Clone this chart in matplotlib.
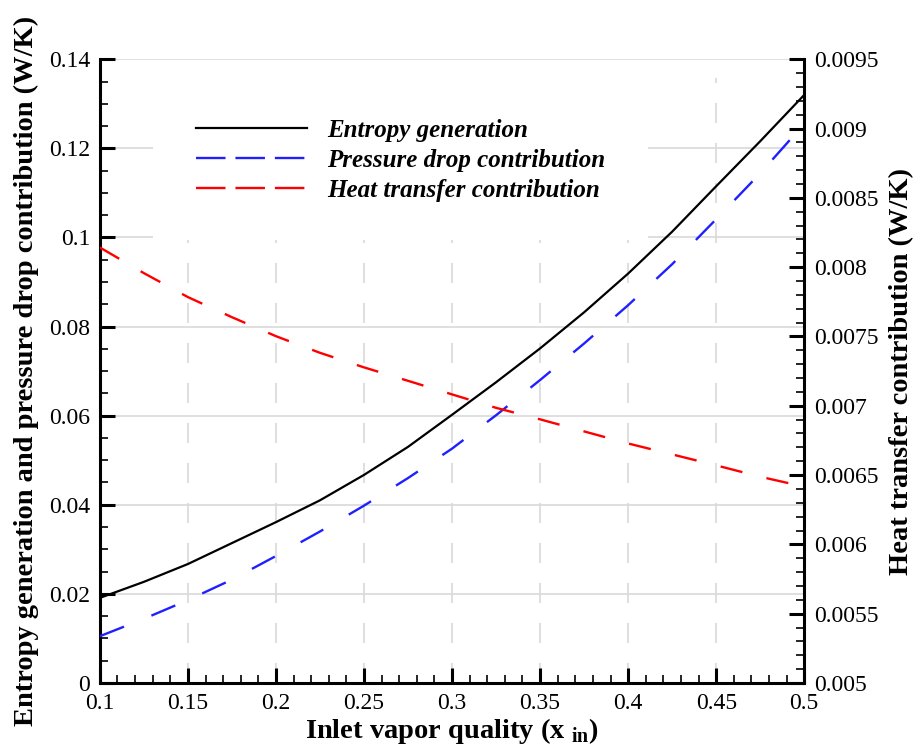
import numpy as np
import matplotlib
matplotlib.use("Agg")
import matplotlib.pyplot as plt
from matplotlib.patches import Rectangle
from matplotlib.ticker import MultipleLocator, FuncFormatter

plt.rcParams['font.family'] = ['Liberation Serif', 'DejaVu Serif']
plt.rcParams['mathtext.fontset'] = 'custom'
plt.rcParams['mathtext.rm'] = 'Liberation Serif'
plt.rcParams['mathtext.bf'] = 'Liberation Serif:bold'

# data
x_in = [0.1, 0.125, 0.15, 0.175, 0.2, 0.225, 0.25, 0.275, 0.3,
        0.325, 0.35, 0.375, 0.4, 0.425, 0.45, 0.475, 0.5]
entropy = [0.0191, 0.0227, 0.0267, 0.0314, 0.0361, 0.0410, 0.0467, 0.0530, 0.0602,
           0.0675, 0.0751, 0.0832, 0.0919, 0.1013, 0.1115, 0.1216, 0.1320]
pressure = [0.0105, 0.0144, 0.0186, 0.0232, 0.0285, 0.0340, 0.0398, 0.0460, 0.0526,
            0.0601, 0.0680, 0.0762, 0.0848, 0.0940, 0.1041, 0.1144, 0.1255]
heat = [0.008142, 0.007957, 0.007784, 0.007639, 0.007502, 0.007382, 0.007277, 0.007180, 0.007082,
        0.006985, 0.006902, 0.006815, 0.006728, 0.006649, 0.006570, 0.006488, 0.006416]

labels = ['Entropy generation', 'Pressure drop contribution', 'Heat transfer contribution']

fig = plt.figure(figsize=(9.16, 7.47), dpi=100)
ax = fig.add_axes([0.109, 0.0857, 0.769, 0.835])
ax2 = ax.twinx()

ax.set_xlim(0.1, 0.5)
ax.set_ylim(0, 0.14)
ax2.set_ylim(0.005, 0.0095)

# grid (tecplot style), legend area blanked out
gcol = '#d9d9d9'
for yv in np.arange(0.02, 0.121, 0.02):
    ax.axhline(yv, color=gcol, lw=1.2, zorder=0.5)
ax.axhline(0.14, color=gcol, lw=1.2, zorder=0.9)
for xv in np.arange(0.15, 0.46, 0.05):
    ax.axvline(xv, ymax=0.97, color=gcol, lw=1.2, dashes=(12, 12), zorder=0.5)
ax.add_patch(Rectangle((0.075, 0.71), 0.703, 0.285, transform=ax.transAxes,
                       facecolor='white', edgecolor='none', zorder=0.8))

l1, = ax.plot(x_in, entropy, color='black', lw=1.6, zorder=3)
l2, = ax.plot(x_in, pressure, color='#2020ff', lw=1.7, dashes=(11, 12.5), zorder=3)
l3, = ax2.plot(x_in, heat, color='#ff0000', lw=1.7, dashes=(9.5, 10.5), zorder=3)

leg = ax.legend([l1, l2, l3], labels, loc='upper left', bbox_to_anchor=(0.1044, 0.94),
                frameon=False, handlelength=4.44, handletextpad=0.8, labelspacing=0.27,
                prop={'family': 'Liberation Serif', 'weight': 'bold', 'style': 'italic', 'size': 18})
for h in leg.get_lines()[1:]:
    h.set_dashes((12.5, 4.2))

fmt = FuncFormatter(lambda v, p: '%g' % round(v, 6))
ax.xaxis.set_major_locator(MultipleLocator(0.05))
ax.xaxis.set_minor_locator(MultipleLocator(0.01))
ax.yaxis.set_major_locator(MultipleLocator(0.02))
ax.yaxis.set_minor_locator(MultipleLocator(0.005))
ax2.yaxis.set_major_locator(MultipleLocator(0.0005))
ax2.yaxis.set_minor_locator(MultipleLocator(0.0001))
ax.xaxis.set_major_formatter(fmt)
ax.yaxis.set_major_formatter(fmt)
ax2.yaxis.set_major_formatter(fmt)

for a in (ax, ax2):
    a.spines['top'].set_visible(False)
    for s in a.spines.values():
        s.set_linewidth(2.2)
    a.tick_params(which='major', direction='in', length=11, width=2.2, labelsize=17, pad=7)
    a.tick_params(which='minor', direction='in', length=6, width=1.2)
ax.spines['right'].set_visible(False)
ax2.spines['left'].set_visible(False)
ax2.spines['bottom'].set_visible(False)

ax.set_xlabel(r'Inlet vapor quality (x $_{\mathbf{in}}$)', fontsize=20.5, fontweight='bold', labelpad=1.5)
ax.set_ylabel('Entropy generation and pressure drop contribution (W/K)', fontsize=20.5,
              fontweight='bold', labelpad=7)
ax2.set_ylabel('Heat transfer contribution (W/K)', fontsize=20.5, fontweight='bold', labelpad=8)

fig.savefig('out.png', dpi=100)
